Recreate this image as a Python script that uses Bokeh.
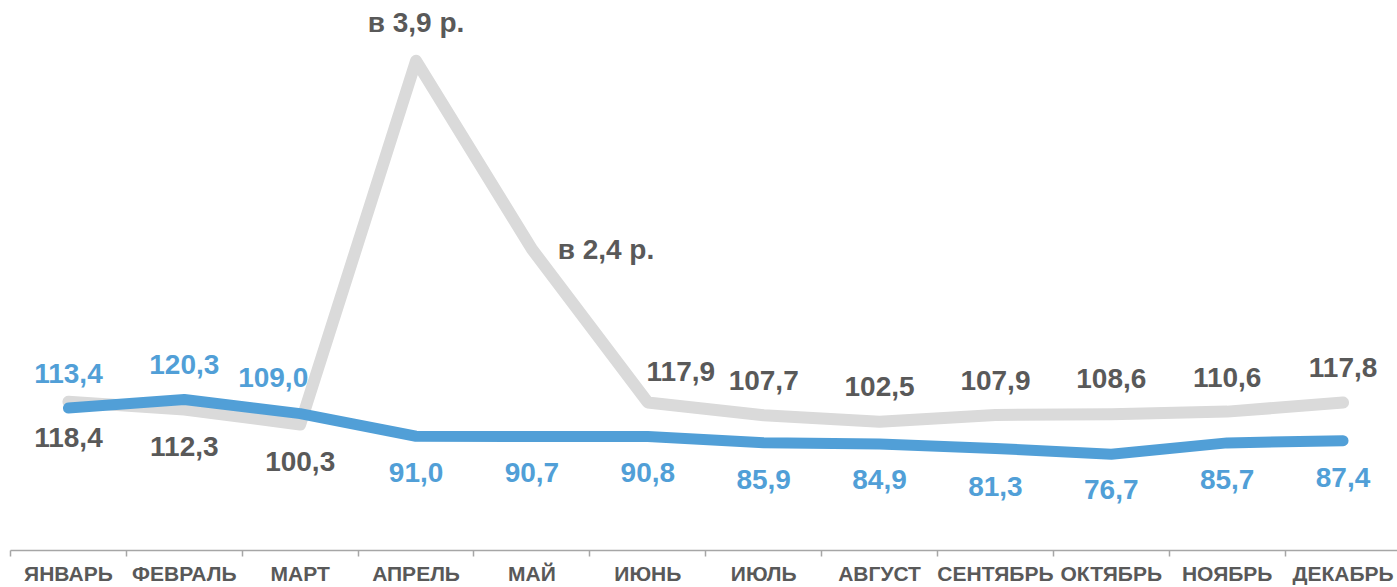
from bokeh.plotting import figure
from bokeh.models import ColumnDataSource, Range1d, LinearAxis, FixedTicker
from bokeh.core.properties import value
from bokeh.embed import file_html
from bokeh.resources import INLINE

# ---- data ----
months = ["ЯНВАРЬ", "ФЕВРАЛЬ", "МАРТ", "АПРЕЛЬ", "МАЙ", "ИЮНЬ",
          "ИЮЛЬ", "АВГУСТ", "СЕНТЯБРЬ", "ОКТЯБРЬ", "НОЯБРЬ", "ДЕКАБРЬ"]
gray_values = [118.4, 112.3, 100.3, 390.0, 240.0, 117.9,
               107.7, 102.5, 107.9, 108.6, 110.6, 117.8]
gray_labels = ["118,4", "112,3", "100,3", "в 3,9 р.", "в 2,4 р.", "117,9",
               "107,7", "102,5", "107,9", "108,6", "110,6", "117,8"]
blue_values = [113.4, 120.3, 109.0, 91.0, 90.7, 90.8,
               85.9, 84.9, 81.3, 76.7, 85.7, 87.4]

# ---- label placement (style, in screen pixels) ----
gray_dx = [0, 0, 0, 0, 74, 33, 0, 0, 0, 0, 0, 0]
gray_dy = [36, 37, 37, -38, 0, -31, -35, -35, -35, -36, -34, -35]
blue_dx = [0, 0, -27, 0, 0, 0, 0, 0, 0, 0, 0, 0]
blue_dy = [-35, -35, -36, 36, 36, 36, 37, 36, 38, 35, 37, 37]

GRAY_LINE = "#dadada"
BLUE = "#519fd7"
DARK = "#595959"
FONT = "Liberation Sans"

n = len(months)
xs = [i + 0.5 for i in range(n)]
blue_labels = [f"{v:.1f}".replace(".", ",") for v in blue_values]

gray_src = ColumnDataSource(dict(x=xs, y=gray_values, t=gray_labels, dx=gray_dx, dy=gray_dy))
blue_src = ColumnDataSource(dict(x=xs, y=blue_values, t=blue_labels, dx=blue_dx, dy=blue_dy))

p = figure(width=1397, height=587, output_backend="svg", toolbar_location=None,
           x_range=Range1d(0, 11.97), y_range=Range1d(0, 438),
           x_axis_location=None, y_axis_location=None,
           min_border_left=10, min_border_right=0, min_border_top=0, min_border_bottom=36)
p.outline_line_color = None
p.xgrid.visible = False
p.ygrid.visible = False
p.background_fill_color = "white"
p.border_fill_color = "white"

p.line("x", "y", source=gray_src, line_color=GRAY_LINE, line_width=12,
       line_cap="round", line_join="round")
p.line("x", "y", source=blue_src, line_color=BLUE, line_width=11,
       line_cap="round", line_join="round")

p.text("x", "y", text="t", source=gray_src, x_offset="dx", y_offset="dy",
       text_align="center", text_baseline="middle", text_color=DARK,
       text_font=value(FONT), text_font_style="bold", text_font_size="28px")
p.text("x", "y", text="t", source=blue_src, x_offset="dx", y_offset="dy",
       text_align="center", text_baseline="middle", text_color=BLUE,
       text_font=value(FONT), text_font_style="bold", text_font_size="28px")

ax = LinearAxis(ticker=FixedTicker(ticks=xs, minor_ticks=list(range(n + 1))))
ax.major_label_overrides = {x: m for x, m in zip(xs, months)}
ax.major_tick_in = 0
ax.major_tick_out = 0
ax.minor_tick_in = 0
ax.minor_tick_out = 6
ax.axis_line_color = "#a6a6a6"
ax.minor_tick_line_color = "#a6a6a6"
ax.axis_line_width = 1.5
ax.minor_tick_line_width = 1.5
ax.major_label_standoff = 5
ax.major_label_text_font = FONT
ax.major_label_text_font_style = "bold"
ax.major_label_text_font_size = "21px"
ax.major_label_text_color = DARK
p.add_layout(ax, "below")

open("out.html", "w").write(file_html(p, INLINE))
